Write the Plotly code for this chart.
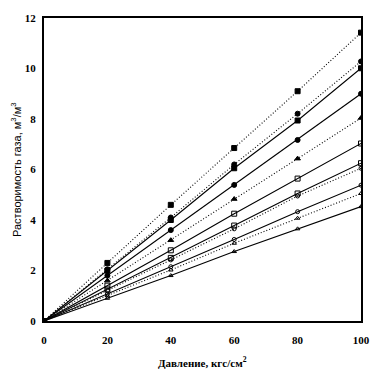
import plotly.graph_objects as go

pressure = [0, 20, 40, 60, 80, 100]

s1 = [0, 2.30, 4.60, 6.85, 9.10, 11.42]
s2 = [0, 2.05, 4.10, 6.20, 8.21, 10.28]
s3 = [0, 2.00, 4.00, 6.05, 7.94, 10.01]
s4 = [0, 1.80, 3.60, 5.39, 7.17, 9.00]
s5 = [0, 1.60, 3.20, 4.83, 6.43, 8.04]
s6 = [0, 1.40, 2.80, 4.25, 5.64, 7.03]
s7 = [0, 1.25, 2.50, 3.78, 5.05, 6.25]
s8 = [0, 1.20, 2.42, 3.65, 4.95, 6.05]
s9 = [0, 1.07, 2.15, 3.23, 4.33, 5.38]
s10 = [0, 1.00, 2.02, 3.08, 4.07, 5.05]
s11 = [0, 0.90, 1.80, 2.75, 3.65, 4.53]

x_ticks = [0, 20, 40, 60, 80, 100]
y_ticks = [0, 2, 4, 6, 8, 10, 12]

DOT = "1px,2px"
series = [
    (s1, DOT, "square", 5),
    (s2, DOT, "circle", 5),
    (s3, "solid", "square", 5),
    (s4, "solid", "circle", 5),
    (s5, DOT, "triangle-up", 5),
    (s6, "solid", "square-open", 5),
    (s7, "solid", "square-open", 5),
    (s8, DOT, "circle-open", 4),
    (s9, "solid", "circle-open", 4),
    (s10, DOT, "triangle-up-open", 4),
    (s11, "solid", "triangle-up-open", 4),
]

fig = go.Figure()
for vals, dash, sym, sz in series:
    fig.add_trace(go.Scatter(
        x=pressure, y=vals, mode="lines+markers",
        line=dict(color="black", width=1.1, dash=dash),
        marker=dict(symbol=sym, size=sz, color="black",
                    line=dict(color="black", width=1)),
        showlegend=False,
    ))

tick_font = dict(family="Liberation Serif", size=11, color="black", weight="bold")

fig.update_layout(
    width=382, height=389,
    margin=dict(l=44, r=14, t=16, b=68),
    paper_bgcolor="white", plot_bgcolor="white",
    xaxis=dict(range=[0, 100], tickvals=x_ticks, showgrid=False, zeroline=False,
               showline=True, linecolor="black", linewidth=2, mirror=True,
               ticks="", tickfont=tick_font, ticklabelstandoff=8),
    yaxis=dict(range=[0, 12], tickvals=y_ticks, showgrid=False, zeroline=False,
               showline=True, linecolor="black", linewidth=2, mirror=True,
               ticks="", tickfont=tick_font, ticklabelstandoff=4),
    annotations=[
        dict(text="Давление, кгс/см<sup>2</sup>", xref="paper", yref="paper",
             x=0.5, y=-0.135, xanchor="center", yanchor="middle", showarrow=False,
             font=dict(family="Liberation Serif", size=11, color="black", weight="bold")),
        dict(text="Растворимость газа, м<sup>3</sup>/м<sup>3</sup>", xref="paper", yref="paper",
             x=-0.09, y=0.5, xanchor="center", yanchor="middle", textangle=-90,
             showarrow=False,
             font=dict(family="Liberation Sans", size=11, color="black")),
    ],
)

fig.write_html("out.html",
               config={"displayModeBar": False},
               post_script="document.body.style.margin='0';document.body.style.overflow='hidden';")
